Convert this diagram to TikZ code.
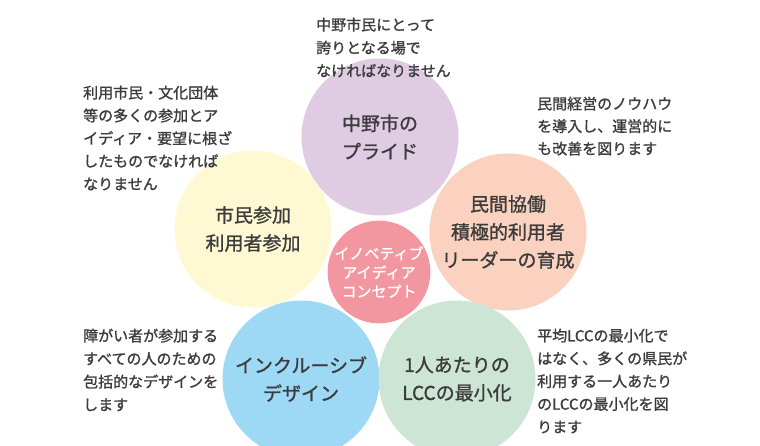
\documentclass[tikz,border=0pt]{standalone}
\usepackage{fontspec}
\setmainfont[BoldFont={Noto Sans CJK JP},BoldFeatures={FakeBold=1.2}]{Noto Sans CJK JP}
\definecolor{cpurple}{HTML}{DFCCE3}
\definecolor{cyellow}{HTML}{FEF9D3}
\definecolor{cpeach}{HTML}{FBD2BF}
\definecolor{cblue}{HTML}{9DD9F5}
\definecolor{cgreen}{HTML}{CCE5D4}
\definecolor{cpink}{HTML}{F2979F}
\definecolor{ctext}{HTML}{3C3C3C}
\begin{document}
\begin{tikzpicture}[x=1pt,y=-1pt,
  bigcircle/.style={circle,inner sep=0pt,minimum size=157pt,align=center,text=ctext,
    font=\bfseries\fontsize{19}{28}\selectfont},
  centercircle/.style={circle,inner sep=0pt,minimum size=99pt,align=center,text=white,
    font=\bfseries\fontsize{15}{19}\selectfont},
  note/.style={anchor=north west,inner sep=0pt,align=left,text=ctext}]
\useasboundingbox (0,0) rectangle (760,446);
\clip (0,0) rectangle (760,446);
\fill[white] (0,0) rectangle (760,446);
\node[bigcircle,fill=cpurple] (pride) at (380,137) {中野市の\\プライド};
\node[bigcircle,fill=cyellow] (citizen) at (253,229) {市民参加\\利用者参加};
\node[bigcircle,fill=cpeach] (coop) at (508,232) {民間協働\\積極的利用者\\リーダーの育成};
\node[bigcircle,fill=cblue] (incl) at (301,379) {インクルーシブ\\デザイン};
\node[bigcircle,fill=cgreen] (lcc) at (457,379) {1人あたりの\\LCCの最小化};
\node[centercircle,fill=cpink] (idea) at (379,272) {イノベティブ\\アイディア\\コンセプト};
\node[note,font=\bfseries\fontsize{15}{23}\selectfont] (ntop) at (316,17.5)
  {中野市民にとって\\誇りとなる場で\\なければなりません};
\node[note,font=\bfseries\fontsize{15}{22.8}\selectfont] (nleft) at (83,85.5)
  {利用市民・文化団体\\等の多くの参加とア\\イディア・要望に根ざ\\したものでなければ\\なりません};
\node[note,font=\bfseries\fontsize{15}{22.5}\selectfont] (nright) at (537,96.5)
  {民間経営のノウハウ\\を導入し、運営的に\\も改善を図ります};
\node[note,font=\bfseries\fontsize{15}{23}\selectfont] (nbl) at (83,328.5)
  {障がい者が参加する\\すべての人のための\\包括的なデザインを\\します};
\node[note,font=\bfseries\fontsize{15}{22.8}\selectfont] (nbr) at (537,328.5)
  {平均LCCの最小化で\\はなく、多くの県民が\\利用する一人あたり\\のLCCの最小化を図\\ります};
\end{tikzpicture}
\end{document}
